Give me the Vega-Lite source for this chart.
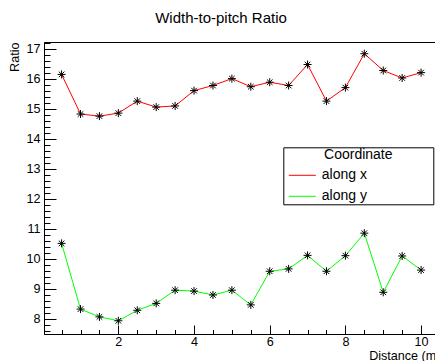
{
  "$schema": "https://vega.github.io/schema/vega-lite/v6.json",
  "autosize": "none",
  "padding": {"left": 44, "top": 42, "right": 0, "bottom": 27},
  "width": 396,
  "height": 292,
  "background": "white",
  "title": {
    "text": "Width-to-pitch Ratio",
    "font": "Liberation Sans",
    "fontSize": 15,
    "fontWeight": "normal",
    "color": "black",
    "anchor": "middle",
    "frame": "group",
    "baseline": "alphabetic",
    "offset": 4,
    "dx": -21
  },
  "config": {
    "view": {"stroke": "black", "strokeWidth": 1},
    "font": "Liberation Sans",
    "axis": {
      "grid": false,
      "domainColor": "black",
      "tickColor": "black",
      "labelColor": "black",
      "titleColor": "black",
      "labelFont": "Liberation Sans",
      "titleFont": "Liberation Sans",
      "labelFontSize": 12.6,
      "titleFontSize": 12.6,
      "titleFontWeight": "normal"
    }
  },
  "data": {
    "values": [
      {"d": 0.5, "ratio": 16.14, "coord": "along x"},
      {"d": 1.0, "ratio": 14.82, "coord": "along x"},
      {"d": 1.5, "ratio": 14.75, "coord": "along x"},
      {"d": 2.0, "ratio": 14.85, "coord": "along x"},
      {"d": 2.5, "ratio": 15.25, "coord": "along x"},
      {"d": 3.0, "ratio": 15.05, "coord": "along x"},
      {"d": 3.5, "ratio": 15.09, "coord": "along x"},
      {"d": 4.0, "ratio": 15.6, "coord": "along x"},
      {"d": 4.5, "ratio": 15.77, "coord": "along x"},
      {"d": 5.0, "ratio": 16.0, "coord": "along x"},
      {"d": 5.5, "ratio": 15.73, "coord": "along x"},
      {"d": 6.0, "ratio": 15.88, "coord": "along x"},
      {"d": 6.5, "ratio": 15.77, "coord": "along x"},
      {"d": 7.0, "ratio": 16.47, "coord": "along x"},
      {"d": 7.5, "ratio": 15.25, "coord": "along x"},
      {"d": 8.0, "ratio": 15.7, "coord": "along x"},
      {"d": 8.5, "ratio": 16.83, "coord": "along x"},
      {"d": 9.0, "ratio": 16.27, "coord": "along x"},
      {"d": 9.5, "ratio": 16.02, "coord": "along x"},
      {"d": 10.0, "ratio": 16.2, "coord": "along x"},
      {"d": 0.5, "ratio": 10.51, "coord": "along y"},
      {"d": 1.0, "ratio": 8.32, "coord": "along y"},
      {"d": 1.5, "ratio": 8.06, "coord": "along y"},
      {"d": 2.0, "ratio": 7.93, "coord": "along y"},
      {"d": 2.5, "ratio": 8.28, "coord": "along y"},
      {"d": 3.0, "ratio": 8.51, "coord": "along y"},
      {"d": 3.5, "ratio": 8.95, "coord": "along y"},
      {"d": 4.0, "ratio": 8.92, "coord": "along y"},
      {"d": 4.5, "ratio": 8.79, "coord": "along y"},
      {"d": 5.0, "ratio": 8.95, "coord": "along y"},
      {"d": 5.5, "ratio": 8.46, "coord": "along y"},
      {"d": 6.0, "ratio": 9.58, "coord": "along y"},
      {"d": 6.5, "ratio": 9.66, "coord": "along y"},
      {"d": 7.0, "ratio": 10.11, "coord": "along y"},
      {"d": 7.5, "ratio": 9.58, "coord": "along y"},
      {"d": 8.0, "ratio": 10.1, "coord": "along y"},
      {"d": 8.5, "ratio": 10.85, "coord": "along y"},
      {"d": 9.0, "ratio": 8.88, "coord": "along y"},
      {"d": 9.5, "ratio": 10.09, "coord": "along y"},
      {"d": 10.0, "ratio": 9.62, "coord": "along y"}
    ]
  },
  "layer": [
    {
      "mark": {"type": "line", "strokeWidth": 1, "clip": true},
      "encoding": {
        "x": {
          "field": "d",
          "type": "quantitative",
          "scale": {"domain": [0.035, 10.5], "nice": false, "zero": false},
          "axis": {
            "orient": "bottom",
            "values": [2, 4, 6, 8, 10],
            "tickSize": -9,
            "labelPadding": 10,
            "labelBaseline": "top",
            "title": "Distance (m)",
            "titleAnchor": "end",
            "titleAlign": "right",
            "titleBaseline": "alphabetic",
            "titleX": 396,
            "titleY": 25
          }
        },
        "y": {
          "field": "ratio",
          "type": "quantitative",
          "scale": {"domain": [7.49, 17.22], "nice": false, "zero": false},
          "axis": {
            "orient": "left",
            "values": [8, 9, 10, 11, 12, 13, 14, 15, 16, 17],
            "tickSize": -12,
            "labelPadding": 16,
            "title": "Ratio",
            "titleAnchor": "end",
            "titlePadding": 4.7
          }
        },
        "color": {
          "field": "coord",
          "type": "nominal",
          "scale": {"domain": ["along x", "along y"], "range": ["#ff0000", "#00ff00"]},
          "legend": {
            "title": "Coordinate",
            "orient": "none",
            "legendX": 239.3,
            "legendY": 105.3,
            "direction": "vertical",
            "strokeColor": "black",
            "fillColor": "white",
            "padding": 1,
            "titleFont": "Liberation Sans",
            "titleFontSize": 14,
            "titleFontWeight": "normal",
            "titleColor": "black",
            "titleAnchor": "middle",
            "titleBaseline": "top",
            "titlePadding": -1,
            "labelFont": "Liberation Sans",
            "labelFontSize": 14,
            "labelColor": "black",
            "labelOffset": 5.5,
            "labelExpr": "datum.label + '\u00a0\u00a0\u00a0\u00a0\u00a0\u00a0\u00a0\u00a0\u00a0\u00a0\u00a0\u00a0\u00a0\u00a0\u2800'",
            "labelLimit": 400,
            "rowPadding": -9,
            "symbolType": "stroke",
            "symbolSize": 729,
            "symbolStrokeWidth": 1,
            "symbolOffset": 4
          }
        }
      }
    },
    {
      "mark": {
        "type": "point",
        "shape": "M-1,0L1,0M0,-1L0,1M-0.7,-0.7L0.7,0.7M-0.7,0.7L0.7,-0.7",
        "filled": false,
        "stroke": "black",
        "strokeWidth": 1,
        "size": 64,
        "opacity": 1
      },
      "encoding": {
        "x": {"field": "d", "type": "quantitative", "axis": null},
        "y": {"field": "ratio", "type": "quantitative", "axis": null}
      }
    },
    {
      "mark": {"type": "point", "opacity": 0},
      "encoding": {
        "x": {
          "field": "d",
          "type": "quantitative",
          "axis": {
            "orient": "bottom",
            "values": [0.5, 1, 1.5, 2.5, 3, 3.5, 4.5, 5, 5.5, 6.5, 7, 7.5, 8.5, 9, 9.5, 10.5],
            "tickSize": -4.5,
            "labels": false,
            "domain": false,
            "title": null
          }
        },
        "y": {
          "field": "ratio",
          "type": "quantitative",
          "axis": {
            "orient": "left",
            "values": [7.6, 7.8, 8.2, 8.4, 8.6, 8.8, 9.2, 9.4, 9.6, 9.8, 10.2, 10.4, 10.6, 10.8, 11.2, 11.4, 11.6, 11.8, 12.2, 12.4, 12.6, 12.8, 13.2, 13.4, 13.6, 13.8, 14.2, 14.4, 14.6, 14.8, 15.2, 15.4, 15.6, 15.8, 16.2, 16.4, 16.6, 16.8, 17.2],
            "tickSize": -6,
            "labels": false,
            "domain": false,
            "title": null
          }
        }
      }
    }
  ],
  "resolve": {"axis": {"x": "independent", "y": "independent"}}
}
